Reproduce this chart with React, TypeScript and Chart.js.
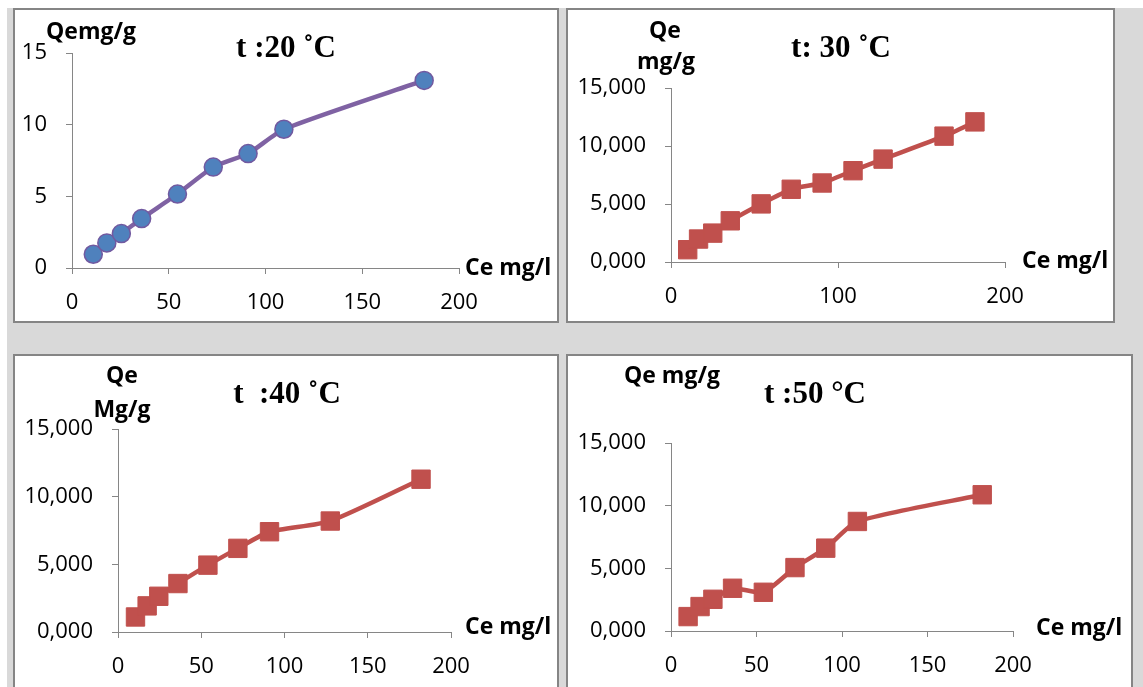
import React, { useEffect, useRef } from "react";
import { Chart, registerables } from "chart.js";

Chart.register(...registerables);

// ---------- data ----------
const ce20 = [11, 18, 25.5, 36, 54.5, 73, 91, 109.5, 182];
const qe20 = [0.96, 1.75, 2.4, 3.45, 5.16, 7.04, 7.98, 9.68, 13.09];

const ce30 = [10, 16.5, 25, 35.5, 54, 72, 90.5, 109, 127, 163.5, 182];
const qe30 = [1.06, 1.98, 2.49, 3.55, 5.01, 6.27, 6.81, 7.87, 8.87, 10.85, 12.08];

const ce40 = [10.5, 17.5, 24.5, 36, 54, 72, 91, 127.5, 182];
const qe40 = [1.11, 1.93, 2.64, 3.58, 4.94, 6.18, 7.41, 8.2, 11.29];

const ce50 = [10, 17, 24.5, 36, 54, 72.5, 90.5, 109, 182];
const qe50 = [1.15, 1.95, 2.53, 3.41, 3.09, 5.06, 6.61, 8.74, 10.87];

const yTickLabelsPlain = ["0", "5", "10", "15"];
const yTickLabelsComma = ["0,000", "5,000", "10,000", "15,000"];

const titles = ["t :20 \u02DAC", "t: 30 \u02DAC", "t  :40 \u02DAC", "t :50 \u00B0C"];

// ---------- layout ----------
const TICK_FONT = "'Open Sans', 'DejaVu Sans', sans-serif";
const TITLE_FONT = "bold 31px 'Liberation Serif', 'Times New Roman', serif";
const AXIS_FONT = "bold 23px 'Open Sans', 'DejaVu Sans', sans-serif";
const X_H = 45;

type Txt = { text: string; x: number; y: number; font: string; align: CanvasTextAlign };

type PanelCfg = {
  left: number; top: number; w: number; h: number;
  area: { l: number; r: number; t: number; b: number };
  xs: number[]; ys: number[];
  xStep: number;
  yLabels: string[];
  kind: "circle" | "rect";
  texts: Txt[];
};

const panels: PanelCfg[] = [
  {
    left: 13, top: 8, w: 546, h: 315,
    area: { l: 72, r: 459, t: 53, b: 268 },
    xs: ce20, ys: qe20, xStep: 50, yLabels: yTickLabelsPlain, kind: "circle",
    texts: [
      { text: titles[0], x: 286, y: 57, font: TITLE_FONT, align: "center" },
      { text: "Qemg/g", x: 46, y: 39, font: AXIS_FONT, align: "left" },
      { text: "Ce mg/l", x: 465, y: 275, font: AXIS_FONT, align: "left" },
    ],
  },
  {
    left: 566, top: 8, w: 549, h: 315,
    area: { l: 671, r: 1005, t: 88, b: 262 },
    xs: ce30, ys: qe30, xStep: 100, yLabels: yTickLabelsComma, kind: "rect",
    texts: [
      { text: titles[1], x: 841, y: 57, font: TITLE_FONT, align: "center" },
      { text: "Qe", x: 665, y: 38, font: AXIS_FONT, align: "center" },
      { text: "mg/g", x: 666, y: 69, font: AXIS_FONT, align: "center" },
      { text: "Ce mg/l", x: 1022, y: 268, font: AXIS_FONT, align: "left" },
    ],
  },
  {
    left: 13, top: 354, w: 546, h: 346,
    area: { l: 118, r: 451, t: 429, b: 632 },
    xs: ce40, ys: qe40, xStep: 50, yLabels: yTickLabelsComma, kind: "rect",
    texts: [
      { text: titles[2], x: 287, y: 403, font: TITLE_FONT, align: "center" },
      { text: "Qe", x: 122, y: 383, font: AXIS_FONT, align: "center" },
      { text: "Mg/g", x: 122, y: 417, font: AXIS_FONT, align: "center" },
      { text: "Ce mg/l", x: 465, y: 634, font: AXIS_FONT, align: "left" },
    ],
  },
  {
    left: 566, top: 354, w: 567, h: 346,
    area: { l: 671, r: 1013, t: 443, b: 631 },
    xs: ce50, ys: qe50, xStep: 50, yLabels: yTickLabelsComma, kind: "rect",
    texts: [
      { text: titles[3], x: 815, y: 403, font: TITLE_FONT, align: "center" },
      { text: "Qe mg/g", x: 624, y: 383, font: AXIS_FONT, align: "left" },
      { text: "Ce mg/l", x: 1036, y: 635, font: AXIS_FONT, align: "left" },
    ],
  },
];

const BORDER = 2;

function Panel({ cfg }: { cfg: PanelCfg }) {
  const ref = useRef<HTMLCanvasElement | null>(null);
  const innerX = cfg.left + BORDER;
  const innerY = cfg.top + BORDER;
  const cw = cfg.w - 2 * BORDER;
  const ch = cfg.h - 2 * BORDER;

  useEffect(() => {
    if (!ref.current) return;
    const yW = cfg.area.l - innerX - 2;
    const padLeft = 2;
    const padRight = innerX + cw - cfg.area.r;
    const padTop = cfg.area.t - innerY;
    const padBottom = innerY + ch - cfg.area.b - X_H;

    const textPlugin = {
      id: "panelTexts",
      afterDraw(chart: any) {
        const ctx = chart.ctx;
        ctx.save();
        ctx.fillStyle = "#000";
        ctx.textBaseline = "alphabetic";
        for (const t of cfg.texts) {
          ctx.font = t.font;
          ctx.textAlign = t.align;
          ctx.fillText(t.text, t.x - innerX, t.y - innerY);
        }
        ctx.restore();
      },
    };

    const isCircle = cfg.kind === "circle";
    const data = cfg.xs.map((x, i) => ({ x, y: cfg.ys[i] }));

    const chart = new Chart(ref.current, {
      type: "line",
      data: {
        datasets: [
          {
            data,
            borderColor: isCircle ? "#7f62a3" : "#c0504d",
            borderWidth: 4.5,
            tension: 0.2,
            pointStyle: isCircle ? "circle" : "rect",
            pointRadius: isCircle ? 9 : 13,
            pointHoverRadius: isCircle ? 9 : 13,
            pointBackgroundColor: isCircle ? "#4f81bd" : "#c0504d",
            pointBorderColor: isCircle ? "#7159a0" : "#c0504d",
            pointBorderWidth: isCircle ? 1.5 : 1,
            clip: false as any,
          } as any,
        ],
      },
      options: {
        animation: false,
        responsive: false,
        devicePixelRatio: 1,
        events: [],
        layout: { padding: { left: padLeft, right: padRight, top: padTop, bottom: padBottom } },
        plugins: { legend: { display: false }, tooltip: { enabled: false }, title: { display: false } },
        scales: {
          x: {
            type: "linear",
            min: 0,
            max: 200,
            afterFit: (s: any) => { s.height = X_H; },
            ticks: {
              stepSize: cfg.xStep,
              color: "#000",
              font: { family: TICK_FONT, size: 22 },
              padding: 16,
              maxRotation: 0,
              callback: (v: any) => String(v),
            },
            grid: { display: true, drawOnChartArea: false, drawTicks: true, tickLength: 6, color: "#868686", lineWidth: 1 },
            border: { display: true, color: "#868686", width: 1 },
          },
          y: {
            type: "linear",
            min: 0,
            max: 15,
            afterFit: (s: any) => { s.width = yW; },
            ticks: {
              stepSize: 5,
              color: "#000",
              font: { family: TICK_FONT, size: 22 },
              padding: 19,
              callback: (_v: any, i: number) => cfg.yLabels[i],
            },
            grid: { display: true, drawOnChartArea: false, drawTicks: true, tickLength: 6, color: "#868686", lineWidth: 1 },
            border: { display: true, color: "#868686", width: 1 },
          },
        },
      } as any,
      plugins: [textPlugin],
    });
    return () => chart.destroy();
  }, []);

  return (
    <div
      style={{
        position: "absolute",
        left: cfg.left,
        top: cfg.top,
        width: cfg.w,
        height: cfg.h,
        boxSizing: "border-box",
        border: `${BORDER}px solid #858585`,
        background: "#ffffff",
      }}
    >
      <canvas ref={ref} width={cw} height={ch} style={{ display: "block", width: cw, height: ch }} />
    </div>
  );
}

export default function App() {
  return (
    <div
      style={{
        position: "fixed",
        left: 0,
        top: 0,
        width: 1143,
        height: 687,
        overflow: "hidden",
        background: "#ffffff",
      }}
    >
      <div style={{ position: "absolute", left: 7, top: 8, right: 0, bottom: 0, background: "#d9d9d9" }} />
      {panels.map((p, i) => (
        <Panel key={i} cfg={p} />
      ))}
    </div>
  );
}
